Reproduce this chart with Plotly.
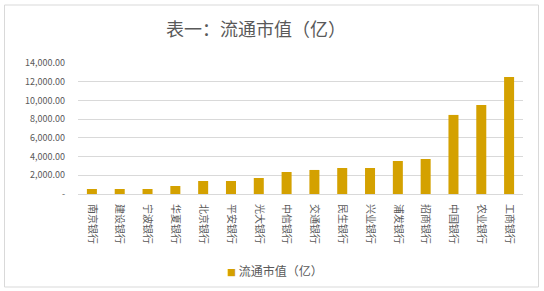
import plotly.graph_objects as go

banks = ["南京银行", "建设银行", "宁波银行", "华夏银行", "北京银行", "平安银行", "光大银行", "中信银行",
         "交通银行", "民生银行", "兴业银行", "浦发银行", "招商银行", "中国银行", "农业银行", "工商银行"]
market_cap = [535, 535, 535, 855, 1390, 1390, 1710, 2350,
              2570, 2780, 2780, 3530, 3740, 8450, 9520, 12510]
tick_vals = [0, 2000, 4000, 6000, 8000, 10000, 12000, 14000]
tick_text = ["-", "2,000.00", "4,000.00", "6,000.00", "8,000.00", "10,000.00", "12,000.00", "14,000.00"]
series_name = "流通市值（亿）"
bar_color = "#D4A100"

W, H = 544, 291
L, R, T, B = 78, 21, 63, 97
pw, ph = W - L - R, H - T - B

fig = go.Figure()
fig.add_trace(go.Bar(x=banks, y=market_cap, name=series_name, marker_color=bar_color,
                     marker_line_width=0, showlegend=False))

font = "Noto Sans CJK SC, sans-serif"
fig.update_layout(
    width=W, height=H, margin=dict(l=L, r=R, t=T, b=B),
    paper_bgcolor="white", plot_bgcolor="white",
    title=dict(text="表一：流通市值（亿）", x=256 / W, xanchor="center", y=1 - 30 / H, yanchor="middle",
               font=dict(family=font, size=18, color="#595959")),
    bargap=0.64,
    showlegend=False,
    xaxis=dict(tickangle=90, tickfont=dict(family=font, size=10, color="#595959"),
               showline=True, linecolor="#d9d9d9", linewidth=1, ticks="", showgrid=False,
               ticklabelstandoff=7),
    yaxis=dict(range=[0, 14000], tickvals=tick_vals, ticktext=tick_text,
               tickfont=dict(family=font, size=9, color="#595959"),
               showgrid=True, gridcolor="#d9d9d9", gridwidth=1, zeroline=False,
               showline=False, ticks="", ticklabelstandoff=12),
    shapes=[dict(type="rect", xref="paper", yref="paper",
                 x0=(4.5 - L) / pw, x1=(538.5 - L) / pw,
                 y0=(H - B - 287) / ph, y1=(H - B - 5) / ph,
                 line=dict(color="#d9d9d9", width=1), fillcolor="rgba(0,0,0,0)", layer="below")],
    annotations=[dict(text=f'<span style="color:{bar_color};font-size:9px">■</span> {series_name}',
                      xref="paper", yref="paper", x=(225 - L) / pw, xanchor="left",
                      y=(H - B - 270) / ph, yanchor="middle", showarrow=False,
                      font=dict(family=font, size=12, color="#595959"))],
)
fig.write_html("out.html")
